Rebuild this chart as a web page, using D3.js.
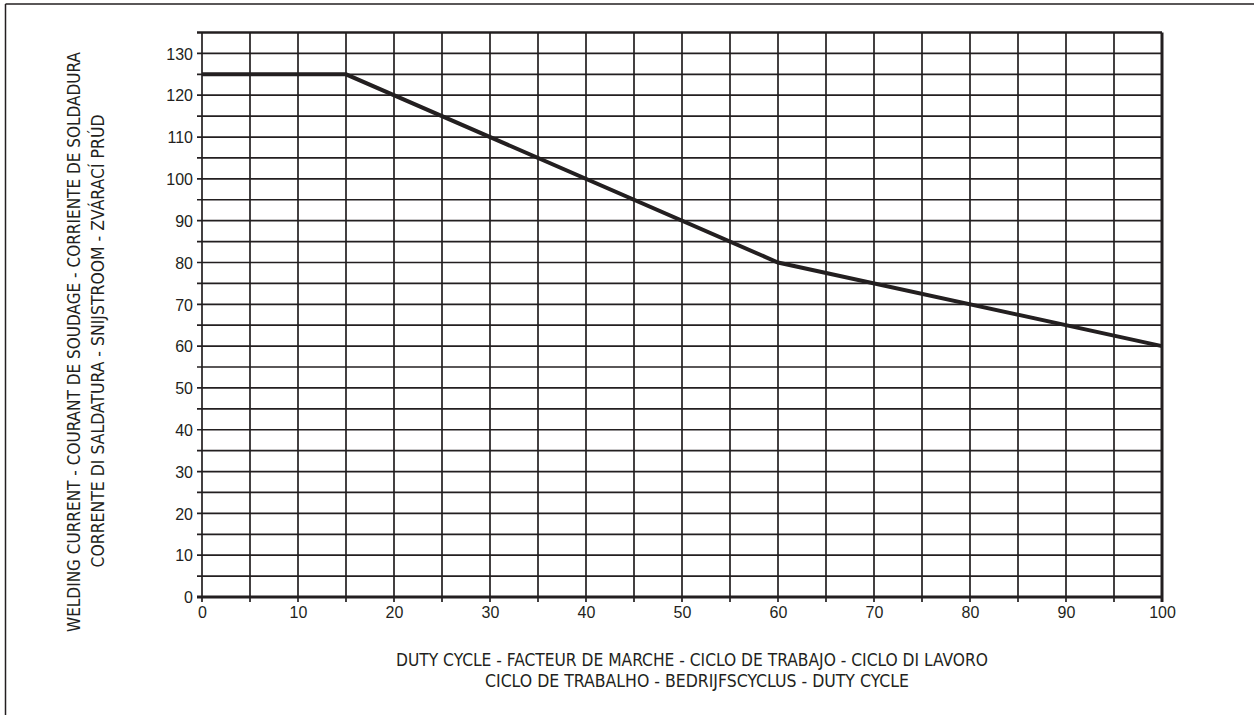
<!DOCTYPE html>
<html>
<head>
<meta charset="utf-8">
<script src="https://cdn.jsdelivr.net/npm/d3@7"></script>
<style>
  html, body { margin: 0; padding: 0; background: #fff; }
  svg { display: block; }
</style>
</head>
<body>
<svg id="chart" width="1254" height="715"></svg>
<script>
// ---- data ----
const dutyCycle = [0, 15, 60, 100];
const current   = [125, 125, 80, 60];
const xTickValues = [0, 10, 20, 30, 40, 50, 60, 70, 80, 90, 100];
const yTickValues = [0, 10, 20, 30, 40, 50, 60, 70, 80, 90, 100, 110, 120, 130];
const xTitleLines = [
  "DUTY CYCLE - FACTEUR DE MARCHE - CICLO DE TRABAJO - CICLO DI LAVORO",
  "CICLO DE TRABALHO - BEDRIJFSCYCLUS - DUTY CYCLE"
];
const yTitleLines = [
  "WELDING CURRENT - COURANT DE SOUDAGE - CORRIENTE DE SOLDADURA",
  "CORRENTE DI SALDATURA - SNIJSTROOM - ZVÁRACÍ PRÚD"
];

const svg = d3.select("#chart");
const ink = "#231f20";
const plotL = 202, plotR = 1162, plotT = 32.5, plotB = 597;

const x = d3.scaleLinear().domain([0, 100]).range([plotL, plotR]);
const y = d3.scaleLinear().domain([0, 135]).range([plotB, plotT]);

// outer frame (top + left only visible)
svg.append("line").attr("x1", 5.5).attr("x2", 1254).attr("y1", 4).attr("y2", 4)
  .attr("stroke", ink).attr("stroke-width", 1.5);
svg.append("line").attr("x1", 5.5).attr("x2", 5.5).attr("y1", 4).attr("y2", 715)
  .attr("stroke", ink).attr("stroke-width", 1.5);

const grid = svg.append("g");
const xGrid = d3.range(0, 101, 5);
const yGrid = d3.range(0, 136, 5);

// horizontal grid (with outward tick extension)
grid.selectAll(".hg").data(yGrid).enter().append("line")
  .attr("x1", plotL - 5).attr("x2", x(100))
  .attr("y1", d => y(d)).attr("y2", d => y(d))
  .attr("stroke", ink)
  .attr("stroke-width", d => d === 0 ? 3 : (d === 135 ? 2.5 : 1.7));

// vertical grid (with downward tick extension)
grid.selectAll(".vg").data(xGrid).enter().append("line")
  .attr("x1", d => x(d)).attr("x2", d => x(d))
  .attr("y1", y(135)).attr("y2", plotB + 5)
  .attr("stroke", ink)
  .attr("stroke-width", d => d === 100 ? 3 : 1.7);

// tick labels via axes
const yAxis = d3.axisLeft(y).tickValues(yTickValues).tickSize(0).tickPadding(0);
const yg = svg.append("g").attr("transform", `translate(${plotL - 9},0)`).call(yAxis);
yg.select(".domain").remove();
yg.selectAll("text").attr("font-family", "Liberation Sans, Arial, sans-serif")
  .attr("font-size", 16).attr("fill", ink).attr("dy", "0.36em");

const xAxis = d3.axisBottom(x).tickValues(xTickValues).tickSize(0).tickPadding(0);
const xg = svg.append("g").attr("transform", `translate(0,${plotB + 9})`).call(xAxis);
xg.select(".domain").remove();
xg.selectAll("text").attr("font-family", "Liberation Sans, Arial, sans-serif")
  .attr("font-size", 16).attr("fill", ink).attr("dy", "0.75em");

// data line
const pts = dutyCycle.map((d, i) => [d, current[i]]);
svg.append("path").datum(pts)
  .attr("d", d3.line().x(d => x(d[0])).y(d => y(d[1])))
  .attr("fill", "none").attr("stroke", ink).attr("stroke-width", 4)
  .attr("stroke-linejoin", "miter");

// axis titles
const titleFont = "'Liberation Sans Narrow', 'DejaVu Sans Condensed', 'Liberation Sans', sans-serif";
const xTitleW = [592, 424];
const xTitleC = [692, 697];
const xTitleY = [666, 687];
xTitleLines.forEach((t, i) => {
  svg.append("text").text(t)
    .attr("x", xTitleC[i]).attr("y", xTitleY[i])
    .attr("text-anchor", "middle")
    .attr("font-family", titleFont).attr("font-size", 18).attr("fill", ink)
    .attr("textLength", xTitleW[i]).attr("lengthAdjust", "spacingAndGlyphs");
});

const yTitleW = [580, 453];
const yTitleC = [342, 341];
const yTitleX = [80, 104];
yTitleLines.forEach((t, i) => {
  svg.append("text").text(t)
    .attr("transform", `translate(${yTitleX[i]},${yTitleC[i]}) rotate(-90)`)
    .attr("text-anchor", "middle")
    .attr("font-family", titleFont).attr("font-size", 18).attr("fill", ink)
    .attr("textLength", yTitleW[i]).attr("lengthAdjust", "spacingAndGlyphs");
});
</script>
</body>
</html>
